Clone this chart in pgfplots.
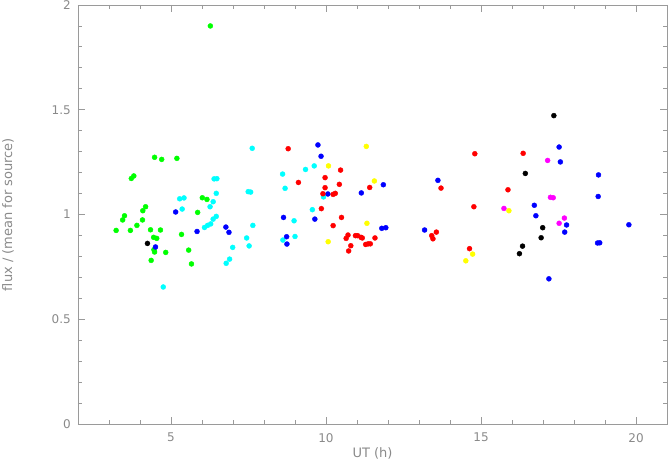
\documentclass[border=0pt]{standalone}
\usepackage{pgfplots}
\pgfplotsset{compat=1.18}
\usepackage{fontspec}
\setmainfont{DejaVu Sans}
\definecolor{axgray}{HTML}{9A9A9A}
\definecolor{txtgray}{HTML}{8A8A8A}
\definecolor{pgreen}{HTML}{00FF00}
\definecolor{pblue}{HTML}{0000FF}
\definecolor{pcyan}{HTML}{00FFFF}
\definecolor{pred}{HTML}{FF0000}
\definecolor{pyellow}{HTML}{FFFF00}
\definecolor{pmag}{HTML}{FF00FF}
\begin{document}
\begin{tikzpicture}
\begin{axis}[
  scale only axis, width=589bp, height=419bp,
  xmin=2, xmax=21, ymin=0, ymax=2,
  xtick={5,10,15,20}, ytick={0,0.5,1,1.5,2},
  minor xtick={3,4,6,7,8,9,11,12,13,14,16,17,18,19,21},
  minor ytick={0.1,0.2,0.3,0.4,0.6,0.7,0.8,0.9,1.1,1.2,1.3,1.4,1.6,1.7,1.8,1.9},
  yticklabels={0,0.5,1,1.5,2},
  xticklabels={5,10,15,20},
  tick align=inside, major tick length=7bp, minor tick length=4bp,
  axis line style={axgray, line width=0.8pt},
  every tick/.style={axgray, line width=0.8pt},
  tick label style={font=\fontsize{12bp}{14bp}\selectfont, text=txtgray},
  xticklabel style={anchor=north, inner sep=0pt, yshift=-9bp},
  yticklabel style={anchor=east, inner sep=0pt, xshift=-7bp},
  xlabel={UT (h)},
  ylabel={flux / (mean for source)},
  every axis x label/.style={at={(axis description cs:0.5,0)}, yshift=-29bp, anchor=center, font=\fontsize{13bp}{15bp}\selectfont, text=txtgray},
  every axis y label/.style={at={(axis description cs:0,0.5)}, xshift=-70bp, rotate=90, anchor=center, font=\fontsize{13bp}{15bp}\selectfont, text=txtgray},
  clip=false,
  every axis plot/.append style={only marks, mark=*, mark size=2.5pt},
]
% green
\addplot[pgreen, mark options={draw=pgreen, fill=pgreen}] coordinates {
(4.47,1.273) (4.70,1.263) (5.19,1.268) (3.72,1.172) (3.80,1.184)
(4.18,1.037) (4.09,1.018) (3.50,0.994) (3.44,0.974) (4.08,0.974)
(3.90,0.948) (3.23,0.924) (3.69,0.924) (4.34,0.927) (4.66,0.926)
(4.44,0.891) (4.54,0.886) (4.45,0.832) (4.47,0.821) (4.83,0.819)
(4.36,0.781) (5.57,0.830) (5.66,0.764) (5.34,0.905) (5.86,1.010)
(6.01,1.080) (6.16,1.072) (6.27,1.900)
};
% cyan
\addplot[pcyan, mark options={draw=pcyan, fill=pcyan}] coordinates {
(7.62,1.316) (8.60,1.193) (9.34,1.215) (8.68,1.125) (6.39,1.170) (6.48,1.171)
(7.49,1.109) (7.57,1.107) (6.46,1.101) (6.36,1.061) (6.26,1.037)
(5.28,1.075) (5.42,1.079) (5.36,1.026) (6.46,0.991) (6.36,0.978)
(6.28,0.955) (6.18,0.948) (6.08,0.938) (7.64,0.948) (8.97,0.970)
(8.61,0.878) (9.00,0.895) (7.44,0.888) (7.52,0.850) (6.99,0.843)
(6.89,0.787) (6.78,0.767) (4.75,0.654) (9.62,1.232) (9.92,1.084) (9.56,1.023)
};
% blue
\addplot[pblue, mark options={draw=pblue, fill=pblue}] coordinates {
(5.15,1.012) (5.84,0.919) (4.50,0.845) (6.77,0.940) (6.87,0.915)
(8.63,0.986) (8.73,0.894) (8.74,0.859) (9.74,1.332) (9.84,1.278)
(10.06,1.098) (11.14,1.103) (11.85,1.142) (9.64,0.978) (11.80,0.934)
(11.93,0.937) (13.18,0.926) (13.61,1.163) (17.52,1.322) (17.56,1.251)
(16.72,1.044) (16.77,0.994) (17.76,0.950) (17.70,0.916) (17.19,0.693)
(18.79,1.189) (18.78,1.086) (18.76,0.864) (18.83,0.865) (19.77,0.951)
};
% red
\addplot[pred, mark options={draw=pred, fill=pred}] coordinates {
(8.78,1.314) (9.11,1.153) (10.47,1.212) (9.97,1.176) (10.43,1.144)
(9.97,1.128) (11.41,1.129) (9.90,1.099) (10.23,1.096) (10.30,1.101)
(9.85,1.028) (10.50,0.986) (10.23,0.947) (10.71,0.902) (10.65,0.886)
(10.95,0.899) (11.02,0.899) (11.13,0.891) (11.17,0.888) (11.58,0.888)
(10.80,0.851) (10.73,0.826) (11.28,0.857) (11.36,0.860) (11.43,0.860)
(13.41,0.899) (13.45,0.884) (13.56,0.916) (14.80,1.290) (13.71,1.126)
(14.77,1.037) (14.63,0.837) (16.36,1.292) (15.87,1.118)
};
% yellow
\addplot[pyellow, mark options={draw=pyellow, fill=pyellow}] coordinates {
(11.30,1.325) (10.08,1.232) (11.56,1.160) (11.32,0.958) (10.07,0.870)
(15.90,1.018) (14.73,0.811) (14.51,0.779)
};
% magenta
\addplot[pmag, mark options={draw=pmag, fill=pmag}] coordinates {
(17.15,1.258) (17.24,1.082) (17.33,1.080) (15.74,1.029) (17.69,0.983) (17.52,0.958)
};
% black
\addplot[black, mark options={draw=black, fill=black}] coordinates {
(4.24,0.862) (17.35,1.472) (16.43,1.196) (16.99,0.937) (16.94,0.889)
(16.34,0.849) (16.24,0.813)
};
\end{axis}
\path (current axis.south west) ++(-78bp,-37bp) coordinate (bl);
\path (current axis.north east) ++(2bp,5bp) coordinate (tr);
\pgfresetboundingbox
\useasboundingbox (bl) rectangle (tr);
\end{tikzpicture}
\end{document}
